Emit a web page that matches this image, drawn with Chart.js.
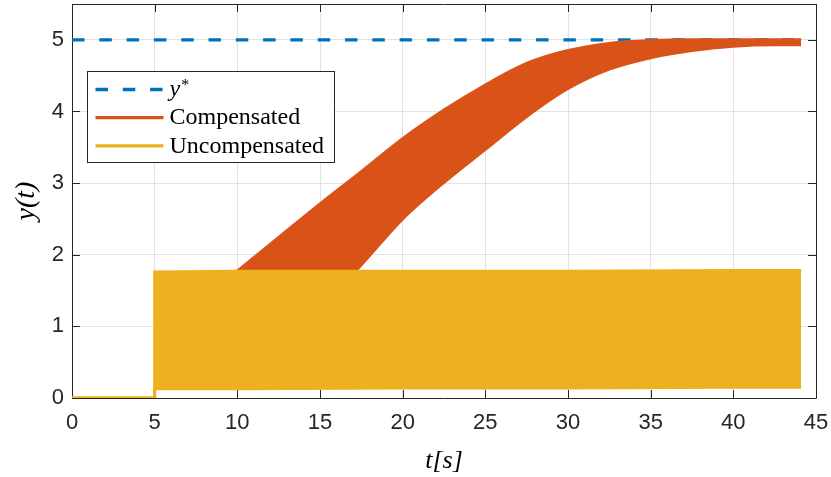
<!DOCTYPE html>
<html>
<head>
<meta charset="utf-8">
<script src="https://cdn.jsdelivr.net/npm/chart.js@4/dist/chart.umd.min.js"></script>
<style>
  html, body { margin: 0; padding: 0; background: #ffffff; }
  #wrap { width: 831px; height: 477px; position: relative; }
</style>
</head>
<body>
<div id="wrap"><canvas id="c" width="831" height="477"></canvas></div>
<script>
// ---- data ----
const X_TICKS = [0, 5, 10, 15, 20, 25, 30, 35, 40, 45];
const Y_TICKS = [0, 1, 2, 3, 4, 5];

const T_REF = [0, 44.1];
const REF = [5, 5];

const T_UNC = [0, 5, 5, 10, 20, 30, 40, 44.1];
const UNC_UPPER = [0, 0, 1.76, 1.77, 1.77, 1.77, 1.78, 1.78];
const UNC_LOWER = [0, 0, 0.13, 0.13, 0.14, 0.14, 0.15, 0.15];

const T_COMP = [5, 10, 12.5, 15, 17.5, 20, 22.5, 25, 27.5, 30, 32.5, 35, 37.5, 40, 42.5, 44.1];
const COMP_UPPER = [0.85, 1.77, 2.24, 2.71, 3.16, 3.62, 4.02, 4.37, 4.67, 4.85, 4.95, 4.99, 5.0, 5.0, 5.0, 5.0];
const COMP_LOWER = [0.14, 0.14, 0.62, 1.25, 1.86, 2.50, 3.01, 3.47, 3.93, 4.32, 4.59, 4.75, 4.85, 4.91, 4.93, 4.93];

const C_REF = '#0072BD', C_COMP = '#D95319', C_UNC = '#EDB120';
const AX = '#262626';

const pts = (ts, ys) => ts.map((t, i) => ({ x: t, y: ys[i] }));

const zeroPad = s => { s.paddingTop = 0; s.paddingBottom = 0; s.paddingLeft = 0; s.paddingRight = 0; };

const framePlugin = {
  id: 'frame',
  beforeDatasetsDraw(chart) {
    const { ctx, chartArea: a, scales: { x, y } } = chart;
    const L = 8;
    ctx.save();
    ctx.strokeStyle = AX;
    ctx.lineWidth = 1;
    ctx.beginPath();
    X_TICKS.forEach(v => {
      const p = Math.round(x.getPixelForValue(v)) + 0.5;
      ctx.moveTo(p, a.bottom); ctx.lineTo(p, a.bottom - L);
      ctx.moveTo(p, a.top); ctx.lineTo(p, a.top + L);
    });
    Y_TICKS.forEach(v => {
      const p = Math.round(y.getPixelForValue(v)) + 0.5;
      ctx.moveTo(a.left, p); ctx.lineTo(a.left + L, p);
      ctx.moveTo(a.right, p); ctx.lineTo(a.right - L, p);
    });
    ctx.stroke();
    ctx.beginPath();
    ctx.rect(Math.round(a.left) + 0.5, Math.round(a.top) + 0.5,
             Math.round(a.right - a.left), Math.round(a.bottom - a.top));
    ctx.stroke();
    ctx.restore();
  }
};

const legendPlugin = {
  id: 'boxLegend',
  afterDatasetsDraw(chart) {
    const { ctx, chartArea: a } = chart;
    const items = chart.data.datasets.filter(d => d.inLegend);
    const bx = a.left + 15.5, by = a.top + 67.5, bw = 247, bh = 91;
    ctx.save();
    ctx.fillStyle = '#ffffff';
    ctx.fillRect(bx, by, bw, bh);
    ctx.strokeStyle = AX;
    ctx.lineWidth = 1;
    ctx.strokeRect(bx, by, bw, bh);
    items.forEach((d, i) => {
      const ly = by + 18 + i * 28.2;
      ctx.beginPath();
      ctx.strokeStyle = d.borderColor;
      ctx.lineWidth = 3.3;
      ctx.setLineDash(d.borderDash || []);
      ctx.moveTo(bx + 8, ly);
      ctx.lineTo(bx + 76, ly);
      ctx.stroke();
      ctx.setLineDash([]);
      ctx.fillStyle = '#000000';
      ctx.textBaseline = 'alphabetic';
      ctx.textAlign = 'left';
      const tx = bx + 82, ty = ly + 6.7;
      if (d.label === 'y*') {
        ctx.font = 'italic 24px "Liberation Serif"';
        ctx.fillText('y', tx, ty);
        const w = ctx.measureText('y').width;
        ctx.font = '16px "Liberation Serif"';
        ctx.fillText('*', tx + w + 1, ty - 6);
      } else {
        ctx.font = '24px "Liberation Serif"';
        ctx.fillText(d.label, tx, ty);
      }
    });
    ctx.restore();
  }
};

new Chart(document.getElementById('c'), {
  type: 'line',
  data: {
    datasets: [
      { label: 'y*', inLegend: true, data: pts(T_REF, REF), borderColor: C_REF,
        borderDash: [12.5, 14.8], borderWidth: 3.3, borderCapStyle: 'butt',
        pointRadius: 0, fill: false, order: 3 },
      { label: 'Compensated', inLegend: true, data: pts(T_COMP, COMP_UPPER), borderColor: C_COMP,
        backgroundColor: C_COMP, borderWidth: 3, pointRadius: 0, fill: '+1',
        cubicInterpolationMode: 'monotone', order: 2 },
      { label: 'Compensated (lower)', data: pts(T_COMP, COMP_LOWER), borderColor: C_COMP,
        backgroundColor: C_COMP, borderWidth: 3, pointRadius: 0, fill: false,
        cubicInterpolationMode: 'monotone', order: 2 },
      { label: 'Uncompensated', inLegend: true, data: pts(T_UNC, UNC_UPPER), borderColor: C_UNC,
        backgroundColor: C_UNC, borderWidth: 3, pointRadius: 0, fill: '+1', order: 1 },
      { label: 'Uncompensated (lower)', data: pts(T_UNC, UNC_LOWER), borderColor: C_UNC,
        backgroundColor: C_UNC, borderWidth: 3, pointRadius: 0, fill: false, order: 1 }
    ]
  },
  options: {
    responsive: false,
    animation: false,
    devicePixelRatio: 1,
    layout: { padding: { top: 4, right: 15, left: 0, bottom: 0 } },
    plugins: { legend: { display: false }, tooltip: { enabled: false } },
    elements: { line: { tension: 0 } },
    scales: {
      x: {
        type: 'linear', min: 0, max: 45,
        afterBuildTicks: s => { s.ticks = X_TICKS.map(v => ({ value: v })); },
        afterFit: s => { s.height = 79; zeroPad(s); },
        grid: { color: '#e2e2e2', lineWidth: 1, drawTicks: false },
        border: { display: false },
        ticks: { color: AX, padding: 12, maxRotation: 0,
                 font: { family: '"Liberation Sans"', size: 22 } },
        title: { display: true, text: 't[s]', color: '#000000', padding: { top: 0, bottom: 0 },
                 font: { family: '"Liberation Serif"', style: 'italic', size: 26 } }
      },
      y: {
        type: 'linear', min: 0, max: 5.5,
        afterBuildTicks: s => { s.ticks = Y_TICKS.map(v => ({ value: v })); },
        afterFit: s => { s.width = 72; zeroPad(s); },
        grid: { color: '#e2e2e2', lineWidth: 1, drawTicks: false },
        border: { display: false },
        ticks: { color: AX, padding: 8,
                 font: { family: '"Liberation Sans"', size: 22 } },
        title: { display: true, text: 'y(t)', color: '#000000', padding: { top: 10, bottom: 0 },
                 font: { family: '"Liberation Serif"', style: 'italic', size: 28 } }
      }
    }
  },
  plugins: [framePlugin, legendPlugin]
});
</script>
</body>
</html>
